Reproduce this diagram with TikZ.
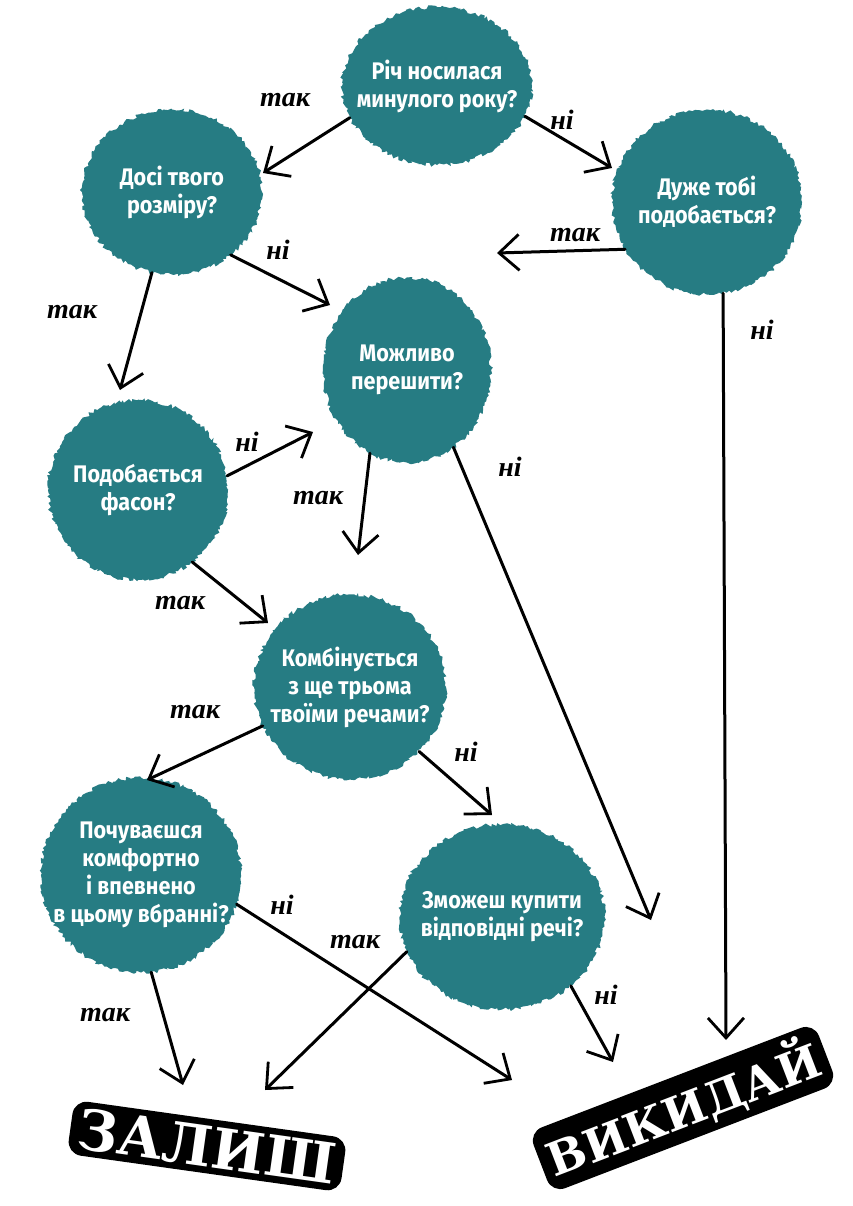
\documentclass[tikz,border=0pt]{standalone}
\usepackage{fontspec}
\usetikzlibrary{arrows.meta,shapes.geometric,decorations.pathmorphing}
\newfontfamily\blobfont[FakeStretch=0.9]{Fira Sans}
\newfontfamily\handfont{Liberation Serif}
\newfontfamily\stampfont{DejaVu Serif}
\definecolor{blobteal}{RGB}{38,124,131}
\begin{document}
\begin{tikzpicture}[x=1pt,y=-1pt,
  blob/.style={ellipse, fill=blobteal, inner sep=-40pt, text=white, align=center,
    font=\blobfont\bfseries\fontsize{24}{28}\selectfont,
    decorate, decoration={random steps, segment length=2.5pt, amplitude=2pt}},
  arr/.style={line width=3pt, line cap=round, -{Straight Barb[length=20pt,width=36pt,line width=2.8pt]}},
  lbl/.style={font=\handfont\itshape\bfseries\fontsize{28}{28}\selectfont},
  stamp/.style={fill=black, text=white, rounded corners=14pt, inner xsep=8pt, inner ysep=6pt,
    font=\stampfont\bfseries\fontsize{56}{56}\selectfont}]
\pgfmathsetseed{7}
\fill[white] (0,0) rectangle (853,1206);
\useasboundingbox (0,0) rectangle (853,1206);

% blobs
\node[blob, minimum width=190pt, minimum height=158pt] (b1) at (437,86) {Річ носилася\\минулого року?};
\node[blob, minimum width=180pt, minimum height=165pt] (b2) at (172,192) {Досі твого\\розміру?};
\node[blob, minimum width=190pt, minimum height=185pt] (b3) at (707,202) {Дуже тобі\\подобається?};
\node[blob, minimum width=168pt, minimum height=185pt] (b4) at (407,370) {Можливо\\перешити?};
\node[blob, minimum width=180pt, minimum height=180pt] (b5) at (138,490) {Подобається\\фасон?};
\node[blob, minimum width=192pt, minimum height=185pt] (b6) at (350,687) {Комбінується\\з ще трьома\\твоїми речами?};
\node[blob, minimum width=200pt, minimum height=195pt] (b7) at (141,875) {Почуваєшся\\комфортно\\і впевнено\\в цьому вбранні?};
\node[blob, minimum width=205pt, minimum height=185pt] (b8) at (502,917) {Зможеш купити\\відповідні речі?};

% outcomes
\node[stamp, rotate=-8] (keep) at (207,1146) {ЗАЛИШ};
\node[stamp, rotate=21, font=\stampfont\bfseries\fontsize{46}{46}\selectfont] (out) at (683,1108) {ВИКИДАЙ};

% arrow tips
\coordinate (t1) at (263,173);
\coordinate (t2) at (612,168);
\coordinate (t3) at (497,253);
\coordinate (t4) at (726,1040);
\coordinate (t5) at (330,305);
\coordinate (t6) at (120,390);
\coordinate (t7) at (313,432);
\coordinate (t8) at (358,555);
\coordinate (t9) at (651,920);
\coordinate (t10) at (268,623);
\coordinate (t11) at (147,780);
\coordinate (t12) at (492,815);
\coordinate (t13) at (183,1085);
\coordinate (t14) at (512,1080);
\coordinate (t15) at (265,1090);
\coordinate (t16) at (613,1062);

% connectors
\draw[arr] (b1.200) -- (t1);
\draw[arr] (b1.341) -- (t2);
\draw[arr] (b3.210) -- (t3);
\draw[arr] (b3.280) -- (t4);
\draw[arr] (b2.313) -- (t5);
\draw[arr] (b2.256) -- (t6);
\draw[arr] (b5.9) -- (t7);
\draw[arr] (b4.246) -- (t8);
\draw[arr] (b4.301) -- (t9);
\draw[arr] (b5.307) -- (t10);
\draw[arr] (b6.204) -- (t11);
\draw[arr] (b6.317) -- (t12);
\draw[arr] (b7.276) -- (t13);
\draw[arr] (b7.343) -- (t14);
\draw[arr] (b8.200) -- (t15);
\draw[arr] (b8.315) -- (t16);

% labels
\node[lbl] (l1) at (285,100) {так};
\node[lbl] (l2) at (562,120) {ні};
\node[lbl] (l3) at (575,235) {так};
\node[lbl] (l4) at (762,330) {ні};
\node[lbl] (l5) at (278,250) {ні};
\node[lbl] (l6) at (72,312) {так};
\node[lbl] (l7) at (247,442) {ні};
\node[lbl] (l8) at (318,498) {так};
\node[lbl] (l9) at (510,467) {ні};
\node[lbl] (l10) at (180,603) {так};
\node[lbl] (l11) at (195,712) {так};
\node[lbl] (l12) at (466,752) {ні};
\node[lbl] (l13) at (105,1015) {так};
\node[lbl] (l14) at (282,905) {ні};
\node[lbl] (l15) at (355,942) {так};
\node[lbl] (l16) at (606,995) {ні};
\end{tikzpicture}
\end{document}
